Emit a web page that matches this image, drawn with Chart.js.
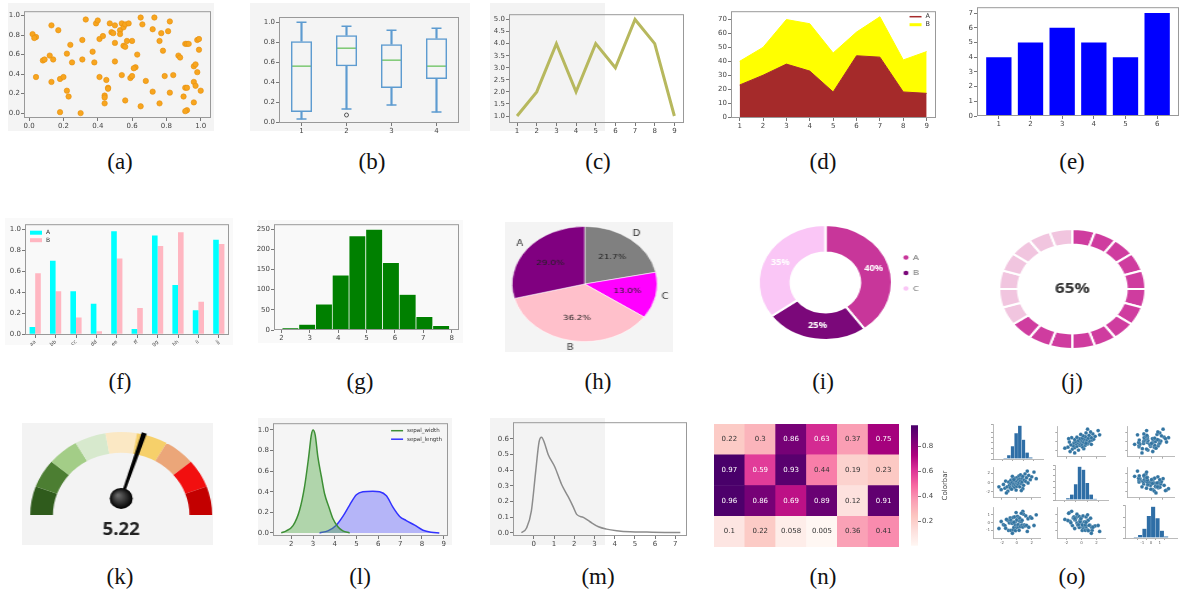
<!DOCTYPE html>
<html>
<head>
<meta charset="utf-8">
<title>Types de graphiques</title>
<script src="https://cdn.jsdelivr.net/npm/chart.js@4.4.1/dist/chart.umd.min.js"></script>
<style>
  html, body { margin: 0; padding: 0; background: #fff; }
  body { position: relative; width: 1181px; height: 597px; overflow: hidden; }
  .fond, .panel { position: absolute; }
  .panel canvas { display: block; }
  .cap { position: absolute; width: 60px; height: 28px; line-height: 28px; text-align: center;
         font-family: 'Liberation Serif', 'Times New Roman', serif; font-size: 23px; color: #111; }
</style>
</head>
<body>
<script>
'use strict';
//(a) nuage de points
const scatterX = [
  0.02, 0.04, 0.03, 0.13, 0.17, 0.08, 0.09, 0.12, 0.14, 0.04,
  0.13, 0.18, 0.20, 0.22, 0.24, 0.25, 0.22, 0.23, 0.18, 0.30,
  0.31, 0.31, 0.33, 0.37, 0.38, 0.39, 0.40, 0.41, 0.43, 0.41,
  0.45, 0.46, 0.46, 0.44, 0.44, 0.44, 0.47, 0.48, 0.49, 0.50,
  0.50, 0.50, 0.53, 0.53, 0.54, 0.55, 0.56, 0.55, 0.56, 0.57,
  0.58, 0.60, 0.54, 0.59, 0.60, 0.62, 0.61, 0.63, 0.56, 0.65,
  0.66, 0.72, 0.73, 0.76, 0.77, 0.78, 0.68, 0.72, 0.65, 0.76,
  0.79, 0.81, 0.82, 0.82, 0.84, 0.87, 0.88, 0.90, 0.91, 0.92,
  0.91, 0.92, 0.93, 0.92, 0.91, 0.96, 0.97, 0.98, 0.99, 0.99,
  0.98, 0.96, 0.97, 1.00, 0.96
];
const scatterY = [
  0.81, 0.78, 0.77, 0.90, 0.85, 0.54, 0.55, 0.59, 0.55, 0.37,
  0.32, 0.35, 0.37, 0.61, 0.70, 0.52, 0.23, 0.17, 0.01, 0.00,
  0.55, 0.75, 0.96, 0.63, 0.52, 0.92, 0.95, 0.76, 0.79, 0.37,
  0.34, 0.26, 0.25, 0.18, 0.16, 0.10, 0.92, 0.83, 0.82, 0.90,
  0.72, 0.53, 0.85, 0.81, 0.92, 0.88, 0.91, 0.69, 0.68, 0.74,
  0.92, 0.74, 0.39, 0.36, 0.38, 0.47, 0.46, 0.60, 0.13, 0.98,
  0.91, 0.86, 0.98, 0.74, 0.82, 0.64, 0.33, 0.22, 0.07, 0.10,
  0.38, 0.84, 0.94, 0.21, 0.39, 0.59, 0.57, 0.17, 0.26, 0.26,
  0.71, 0.71, 0.71, 0.03, 0.02, 0.48, 0.50, 0.75, 0.76, 0.65,
  0.42, 0.32, 0.28, 0.23, 0.11
];
const unitTicks = [0, 0.2, 0.4, 0.6, 0.8, 1.0];

//(b) boîtes à moustaches
const boxCats = ['1', '2', '3', '4'];
const boxMin = [0.03, 0.13, 0.17, 0.10];
const boxQ1 = [0.10, 0.56, 0.34, 0.43];
const boxMed = [0.56, 0.74, 0.62, 0.56];
const boxQ3 = [0.81, 0.87, 0.78, 0.84];
const boxMax = [1.00, 0.96, 0.92, 0.94];
const boxOut = [null, 0.07, null, null];

//(c) courbe
const lineX = [1, 2, 3, 4, 5, 6, 7, 8, 9];
const lineY = [1, 2, 4, 2, 4, 3, 5, 4, 1];
const lineYTicks = [1.0, 1.5, 2.0, 2.5, 3.0, 3.5, 4.0, 4.5, 5.0];

//(d) aires empilées
const areaX = [1, 2, 3, 4, 5, 6, 7, 8, 9];
const areaA = [23, 30, 38, 33, 18, 44, 43, 18, 17];
const areaB = [17, 20, 32, 34, 28, 17, 29, 23, 30];
const areaYTicks = [0, 10, 20, 30, 40, 50, 60, 70];

//(e) barres
const barX = [1, 2, 3, 4, 5, 6];
const barY = [4, 5, 6, 5, 4, 7];
const barYTicks = [0, 1, 2, 3, 4, 5, 6, 7];

//(f) barres groupées
const groupLabels = ['aa', 'bb', 'cc', 'dd', 'ee', 'ff', 'gg', 'hh', 'ii', 'jj'];
const groupA = [0.07, 0.70, 0.41, 0.29, 0.98, 0.05, 0.94, 0.47, 0.23, 0.90];
const groupB = [0.58, 0.41, 0.16, 0.03, 0.72, 0.25, 0.84, 0.97, 0.31, 0.86];

//(g) histogramme
const histCenters = [2.32, 2.91, 3.50, 4.09, 4.68, 5.27, 5.86, 6.45, 7.04, 7.63];
const histCounts = [5, 14, 64, 136, 233, 249, 167, 88, 33, 11];
const histXTicks = [2, 3, 4, 5, 6, 7, 8];
const histYTicks = [0, 50, 100, 150, 200, 250];

//(h) camembert (ordre horaire depuis le haut)
const pieLabels = ['D', 'C', 'B', 'A'];
const pieValues = [21.7, 13.0, 36.2, 29.0];

//(i) anneau
const donutLabels = ['A', 'B', 'C'];
const donutValues = [40, 25, 35];

//(j) anneau segmenté
const ringSegments = [1, 1, 1, 1, 1, 1, 1, 1, 1, 1, 1, 1, 1, 1, 1, 1, 1, 1, 1, 1];
const ringPercent = 65;

//(k) jauge
const gaugeSegments = [1, 1, 1, 1, 1, 1, 1, 1, 1];
const gaugeValue = 5.22;

//(l) densités
const widthX = [1.54, 1.77, 2.08, 2.38, 2.61, 2.80, 2.92, 3.00, 3.10, 3.22, 3.38, 3.53, 3.73, 3.91, 4.14, 4.37, 4.68];
const widthY = [0, 0.02, 0.07, 0.22, 0.45, 0.74, 0.95, 1.00, 0.95, 0.74, 0.55, 0.38, 0.25, 0.14, 0.06, 0.02, 0];
const lengthX = [3.30, 3.68, 4.07, 4.37, 4.68, 4.99, 5.29, 5.75, 6.06, 6.37, 6.67, 6.98, 7.28, 7.67, 8.05, 8.43, 8.80];
const lengthY = [0, 0.02, 0.075, 0.16, 0.27, 0.37, 0.40, 0.405, 0.40, 0.36, 0.25, 0.16, 0.12, 0.075, 0.026, 0.006, 0];
const kdeXTicks = [2, 3, 4, 5, 6, 7, 8, 9];

//(m) densité
const densX = [-0.61, -0.36, -0.12, 0.10, 0.26, 0.38, 0.51, 0.71, 1.04, 1.37, 1.70, 1.95, 2.12, 2.45, 2.78, 3.20, 3.60, 4.10, 4.77, 5.60, 6.90, 7.25];
const densY = [0, 0.03, 0.14, 0.40, 0.58, 0.61, 0.58, 0.50, 0.42, 0.31, 0.23, 0.165, 0.117, 0.098, 0.07, 0.038, 0.023, 0.013, 0.006, 0.004, 0.002, 0.002];
const densXTicks = [0, 1, 2, 3, 4, 5, 6, 7];
const densYTicks = [0, 0.1, 0.2, 0.3, 0.4, 0.5, 0.6];

//(n) carte de chaleur
const heatCols = ['0', '1', '2', '3', '4', '5'];
const heatRows = [
  [0.22, 0.3, 0.86, 0.63, 0.37, 0.75],
  [0.97, 0.59, 0.93, 0.44, 0.19, 0.23],
  [0.96, 0.86, 0.69, 0.89, 0.12, 0.91],
  [0.1, 0.22, 0.058, 0.005, 0.36, 0.41]
];
const colorbarTicks = [0.2, 0.4, 0.6, 0.8];

//(o) matrice de nuages
const pairV1 = [-2.1, -1.8, -1.6, -1.5, -1.3, -1.2, -1.1, -1.0, -0.9, -0.8, -0.8, -0.7, -0.6, -0.5, -0.5, -0.4, -0.3, -0.3, -0.2, -0.2,
  -0.1, -0.1, 0.0, 0.0, 0.1, 0.1, 0.2, 0.2, 0.3, 0.3, 0.4, 0.4, 0.5, 0.5, 0.6, 0.7, 0.7, 0.8, 0.9, 1.0,
  1.1, 1.2, 1.3, 1.5, 1.6, 1.8, 2.0, 2.3, -2.4, 2.6, -0.6, 0.8, -1.4, 1.4, -0.4, 0.6];
const pairV2 = [-1.5, -0.4, -1.2, 0.3, -0.9, -1.8, 0.1, -0.6, -1.1, 0.5, -0.2, -1.4, 0.0, -0.7, 0.8, -0.3, -1.0, 0.4, -0.5, 0.9,
  -0.1, -1.6, 0.2, -0.8, 1.1, -0.3, 0.6, -0.4, 1.4, 0.0, -0.9, 0.7, 0.3, 1.6, -0.2, 0.9, 0.1, 1.3, -0.6, 0.5,
  1.8, 0.2, 1.0, -0.1, 1.5, 0.6, 1.2, 2.2, -0.9, 0.8, 1.3, -1.3, -2.2, 2.4, 0.6, -1.7];
const pairV3 = [0.15, -0.26, -0.38, -0.73, 0.39, 0.28, -1.01, -0.04, 0.61, -1.0, 0.32, -0.01, -0.1, 0.67, -0.93, -0.62, 0.75, 0.11, -0.3, -1.04,
  0.21, 1.31, -0.62, 0.38, -0.31, 0.83, -0.56, -0.26, -0.99, 0.65, 0.54, 0.18, -0.43, -0.51, 0.12, 0.31, -0.31, -0.58, 1.11, -0.3,
  -0.43, 0.88, -0.35, 0.51, -0.6, 0.74, 0.58, -0.37, -0.76, 1.02, -1.38, 1.48, 0.42, -1.14, 0.04, 1.22];
const pairBins1 = [-2.45, -1.75, -1.05, -0.35, 0.35, 1.05, 1.75, 2.45];
const pairBins2 = [-2.45, -1.75, -1.05, -0.35, 0.35, 1.05, 1.75, 2.45];
const pairBins3 = [-1.75, -1.25, -0.75, -0.25, 0.25, 0.75, 1.25, 1.75];
const pairHist1 = [2, 7, 24, 48, 62, 36, 12, 3];
const pairHist2 = [3, 9, 26, 55, 50, 28, 9, 2];
const pairHist3 = [2, 6, 18, 42, 60, 38, 14, 3];
const pairTicks1 = [-2, 0, 2];
const pairTicks2 = [-2, 0, 2];
const pairTicks3 = [-1, 0, 1];

//légendes des sous-figures
const captions = ['(a)', '(b)', '(c)', '(d)', '(e)', '(f)', '(g)', '(h)', '(i)', '(j)', '(k)', '(l)', '(m)', '(n)', '(o)'];

//réglages globaux
Chart.defaults.font.family = "'DejaVu Sans', sans-serif";
Chart.defaults.color = '#444';
Chart.defaults.animation = false;
Chart.defaults.responsive = false;
Chart.defaults.maintainAspectRatio = false;
Chart.defaults.events = [];
Chart.defaults.plugins.legend.display = false;
Chart.defaults.plugins.tooltip.enabled = false;

const f1 = v => Number(v).toFixed(1);

//fonds gris des panneaux
function fond(x, y, w, h, c) {
  const d = document.createElement('div');
  d.className = 'fond';
  Object.assign(d.style, { left: x + 'px', top: y + 'px', width: w + 'px', height: h + 'px', background: c });
  document.body.appendChild(d);
}
fond(8, 3, 206, 128, '#f4f4f4');
fond(250, 3, 220, 128, '#f4f4f4');
fond(490, 3, 115, 128, '#f3f3f3');
fond(5, 218, 228, 127, '#f9f9f9');
fond(258, 220, 205, 123, '#f9f9f9');
fond(505, 222, 168, 130, '#f4f4f4');
fond(22, 423, 191, 122, '#f3f3f3');
fond(258, 418, 194, 127, '#f5f5f5');
fond(490, 418, 115, 127, '#f3f3f3');

//créer un canvas positionné
function creerCanvas(x, y, w, h, sx) {
  const div = document.createElement('div');
  div.className = 'panel';
  div.style.left = x + 'px';
  div.style.top = y + 'px';
  if (sx) { div.style.transform = 'scaleX(' + sx + ')'; div.style.transformOrigin = '0 0'; }
  const cv = document.createElement('canvas');
  cv.width = w; cv.height = h;
  cv.style.width = w + 'px'; cv.style.height = h + 'px';
  div.appendChild(cv);
  document.body.appendChild(div);
  return cv;
}

//canvas pour un graphique à axes (zone de tracé donnée)
const PAD = { top: 5, right: 7, left: 1, bottom: 1 };
function canvasAxes(L, T, R, B, yW, xH) {
  return creerCanvas(L - yW - PAD.left, T - PAD.top, R - L + yW + PAD.left + PAD.right, B - T + PAD.top + xH + PAD.bottom);
}

//axe façon matplotlib
function axe(o) {
  const a = {
    type: o.type || 'linear',
    position: o.pos,
    offset: o.offset || false,
    stacked: o.stacked || false,
    ticks: { font: { size: o.font || 7 }, color: '#444', padding: 1, autoSkip: false, maxRotation: o.rot || 0, minRotation: o.rot || 0 },
    grid: { display: true, drawOnChartArea: false, drawTicks: true, tickLength: 3, tickColor: '#777', offset: false },
    border: { display: false },
    afterFit: s => { if (s.isHorizontal()) s.height = o.size; else s.width = o.size; }
  };
  if (o.min !== undefined) a.min = o.min;
  if (o.max !== undefined) a.max = o.max;
  if (o.ticks) a.afterBuildTicks = s => { s.ticks = o.ticks.map(v => ({ value: v })); };
  if (o.fmt) a.ticks.callback = o.fmt;
  return a;
}

//cadre autour de la zone de tracé
function cadre(color) {
  return {
    id: 'cadre',
    afterDraw(chart) {
      const a = chart.chartArea, c = chart.ctx;
      c.save(); c.strokeStyle = color; c.lineWidth = 1;
      c.strokeRect(a.left + 0.5, a.top + 0.5, a.width - 1, a.height - 1);
      c.restore();
    }
  };
}

//légende dans la zone de tracé
function legende(items, align, taille, pas, haut) {
  return {
    id: 'legende',
    afterDraw(chart) {
      const a = chart.chartArea, c = chart.ctx, ech = 12;
      c.save();
      c.font = taille + "px 'DejaVu Sans'";
      c.textBaseline = 'middle';
      const tw = Math.max(...items.map(it => c.measureText(it.label).width));
      const x0 = align === 'left' ? a.left + 5 : a.right - 6 - ech - 4 - tw;
      items.forEach((it, i) => {
        const y = a.top + haut + i * pas;
        if (it.box) { c.fillStyle = it.color; c.fillRect(x0, y - 2, ech, 4); }
        else { c.strokeStyle = it.color; c.lineWidth = it.lw; c.beginPath(); c.moveTo(x0, y); c.lineTo(x0 + ech, y); c.stroke(); }
        c.fillStyle = '#333';
        c.fillText(it.label, x0 + ech + 4, y);
      });
      c.restore();
    }
  };
}

const pts = (xs, ys) => xs.map((x, i) => ({ x: x, y: ys[i] }));

//(a)
new Chart(canvasAxes(24, 11, 211, 118, 20, 13), {
  type: 'scatter',
  data: { datasets: [{ data: pts(scatterX, scatterY), pointRadius: 2.7, backgroundColor: '#f7a51f', borderColor: '#e58f0c', borderWidth: 0.6 }] },
  options: {
    layout: { padding: PAD },
    scales: { x: axe({ min: -0.03, max: 1.06, ticks: unitTicks, fmt: f1, size: 13 }), y: axe({ min: -0.05, max: 1.045, ticks: unitTicks, fmt: f1, size: 20 }) }
  },
  plugins: [cadre('#999')]
});

//(b)
const bleuBoite = '#5d9bd0';
new Chart(canvasAxes(279, 10, 464, 123, 20, 13), {
  type: 'bar',
  data: {
    labels: boxCats,
    datasets: [
      { data: boxQ1.map((q, i) => [q, boxQ3[i]]), backgroundColor: 'rgba(0,0,0,0)', borderColor: bleuBoite, borderWidth: 1.5, borderSkipped: false, barPercentage: 0.47, categoryPercentage: 1, grouped: false },
      { data: boxMin.map((m, i) => [m, boxQ1[i]]), backgroundColor: bleuBoite, barThickness: 1.5, grouped: false },
      { data: boxQ3.map((q, i) => [q, boxMax[i]]), backgroundColor: bleuBoite, barThickness: 1.5, grouped: false },
      { type: 'line', data: boxMin, showLine: false, pointStyle: 'line', pointRadius: 5, pointBorderColor: bleuBoite, pointBorderWidth: 1.5 },
      { type: 'line', data: boxMax, showLine: false, pointStyle: 'line', pointRadius: 5, pointBorderColor: bleuBoite, pointBorderWidth: 1.5 },
      { type: 'line', data: boxMed, showLine: false, pointStyle: 'line', pointRadius: 10.5, pointBorderColor: '#7cc872', pointBorderWidth: 1.5 },
      { type: 'line', data: boxOut, showLine: false, pointStyle: 'circle', pointRadius: 2, pointBackgroundColor: 'rgba(0,0,0,0)', pointBorderColor: '#555', pointBorderWidth: 1 }
    ]
  },
  options: {
    layout: { padding: PAD },
    scales: { x: axe({ type: 'category', offset: true, size: 13 }), y: axe({ min: -0.01, max: 1.053, ticks: unitTicks, fmt: f1, size: 20 }) }
  },
  plugins: [cadre('#999')]
});

//(c)
new Chart(canvasAxes(509, 14, 684, 123, 20, 13), {
  type: 'line',
  data: { datasets: [{ data: pts(lineX, lineY), borderColor: '#b7b85e', borderWidth: 3, pointRadius: 0, tension: 0 }] },
  options: {
    layout: { padding: PAD },
    scales: { x: axe({ min: 0.59, max: 9.49, ticks: lineX, size: 13 }), y: axe({ min: 0.71, max: 5.22, ticks: lineYTicks, fmt: f1, size: 20 }) }
  },
  plugins: [cadre('#999')]
});

//(d)
new Chart(canvasAxes(731, 11, 936, 118, 20, 13), {
  type: 'line',
  data: {
    datasets: [
      { label: 'A', data: pts(areaX, areaA), borderColor: '#a52a2a', backgroundColor: '#a52a2a', fill: 'origin', pointRadius: 0, borderWidth: 1 },
      { label: 'B', data: pts(areaX, areaB), borderColor: '#ffff00', backgroundColor: '#ffff00', fill: '-1', pointRadius: 0, borderWidth: 1 }
    ]
  },
  options: {
    layout: { padding: PAD },
    scales: { x: axe({ min: 0.63, max: 9.4, ticks: areaX, size: 13 }), y: axe({ min: -0.7, max: 76, ticks: areaYTicks, stacked: true, size: 20 }) }
  },
  plugins: [cadre('#999'), legende([{ label: 'A', color: '#a52a2a', lw: 1.5 }, { label: 'B', color: '#ffff00', lw: 3 }], 'right', 6.5, 8, 5.5)]
});

//(e)
new Chart(canvasAxes(977, 7, 1179, 116, 20, 13), {
  type: 'bar',
  data: { datasets: [{ data: pts(barX, barY), backgroundColor: '#0000ff', barPercentage: 0.8, categoryPercentage: 1 }] },
  options: {
    layout: { padding: PAD },
    scales: { x: axe({ min: 0.31, max: 6.69, ticks: barX, size: 13 }), y: axe({ min: 0, max: 7.4, ticks: barYTicks, size: 20 }) }
  },
  plugins: [cadre('#999')]
});

//(f)
new Chart(canvasAxes(25, 224, 229, 335, 20, 13), {
  type: 'bar',
  data: {
    labels: groupLabels,
    datasets: [
      { label: 'A', data: groupA, backgroundColor: '#00ffff', categoryPercentage: 0.55, barPercentage: 1 },
      { label: 'B', data: groupB, backgroundColor: '#ffb6c1', categoryPercentage: 0.55, barPercentage: 1 }
    ]
  },
  options: {
    layout: { padding: PAD },
    scales: { x: axe({ type: 'category', offset: true, size: 13, font: 5, rot: 40 }), y: axe({ min: -0.006, max: 1.047, ticks: unitTicks, fmt: f1, size: 20 }) }
  },
  plugins: [cadre('#999'), legende([{ label: 'A', color: '#00ffff', box: true }, { label: 'B', color: '#ffb6c1', box: true }], 'left', 6, 7.5, 8.5)]
});

//(g)
new Chart(canvasAxes(274, 224, 459, 330, 20, 13), {
  type: 'bar',
  data: { datasets: [{ data: pts(histCenters, histCounts), backgroundColor: '#008000', borderColor: 'rgba(255,255,255,0.85)', borderWidth: 0.7, barPercentage: 1, categoryPercentage: 1 }] },
  options: {
    layout: { padding: PAD },
    scales: { x: axe({ min: 1.74, max: 8.26, ticks: histXTicks, size: 13 }), y: axe({ min: 0, max: 262, ticks: histYTicks, size: 20 }) }
  },
  plugins: [cadre('#999')]
});

//(h)
const pieColors = { A: '#800080', B: '#ffc0cb', C: '#ff00ff', D: '#808080' };
const textePie = {
  id: 'textePie',
  afterDatasetsDraw(chart) {
    const c = chart.ctx;
    c.save();
    c.textAlign = 'center'; c.textBaseline = 'middle';
    chart.getDatasetMeta(0).data.forEach((arc, i) => {
      const p = arc.getProps(['x', 'y', 'startAngle', 'endAngle', 'outerRadius'], true);
      const mid = (p.startAngle + p.endAngle) / 2;
      c.font = "7px 'DejaVu Sans'"; c.fillStyle = '#222';
      c.fillText(pieValues[i].toFixed(1) + '%', p.x + Math.cos(mid) * p.outerRadius * 0.6, p.y + Math.sin(mid) * p.outerRadius * 0.6);
      c.font = "8px 'DejaVu Sans'"; c.fillStyle = '#333';
      c.fillText(pieLabels[i], p.x + Math.cos(mid) * p.outerRadius * 1.13, p.y + Math.sin(mid) * p.outerRadius * 1.13);
    });
    c.restore();
  }
};
new Chart(creerCanvas(499, 216, 136, 136, 1.26), {
  type: 'pie',
  data: { labels: pieLabels, datasets: [{ data: pieValues, backgroundColor: pieLabels.map(l => pieColors[l]), borderColor: 'rgba(255,255,255,0.7)', borderWidth: 0.8 }] },
  options: { layout: { padding: 10 } },
  plugins: [textePie]
});

//(i)
const donutColors = ['#c8369a', '#7b087a', '#fac6f6'];
const texteDonut = {
  id: 'texteDonut',
  afterDatasetsDraw(chart) {
    const c = chart.ctx;
    let cx = 0, cy = 0, R = 0;
    c.save();
    c.textAlign = 'center'; c.textBaseline = 'middle';
    chart.getDatasetMeta(0).data.forEach((arc, i) => {
      const p = arc.getProps(['x', 'y', 'startAngle', 'endAngle', 'innerRadius', 'outerRadius'], true);
      const mid = (p.startAngle + p.endAngle) / 2, r = (p.innerRadius + p.outerRadius) / 2;
      c.font = "bold 8px 'Open Sans'"; c.fillStyle = '#ffffff';
      c.fillText(donutValues[i] + '%', p.x + Math.cos(mid) * r, p.y + Math.sin(mid) * r);
      cx = p.x; cy = p.y; R = p.outerRadius;
    });
    //légende à droite
    c.textAlign = 'left'; c.font = "8px 'Open Sans'";
    donutLabels.forEach((lab, i) => {
      const y = cy - 25 + i * 15.5;
      c.fillStyle = donutColors[i];
      c.beginPath(); c.arc(cx + R + 12, y, 2.2, 0, 2 * Math.PI); c.fill();
      c.fillStyle = '#666';
      c.fillText(lab, cx + R + 18, y);
    });
    c.restore();
  }
};
new Chart(creerCanvas(754, 220, 160, 125, 1.16), {
  type: 'doughnut',
  data: { labels: donutLabels, datasets: [{ data: donutValues, backgroundColor: donutColors, borderColor: '#ffffff', borderWidth: 2 }] },
  options: { cutout: '52%', layout: { padding: { left: 3, top: 4, bottom: 4, right: 40 } } },
  plugins: [texteDonut]
});

//(j)
const texteAnneau = {
  id: 'texteAnneau',
  afterDatasetsDraw(chart) {
    const p = chart.getDatasetMeta(0).data[0].getProps(['x', 'y'], true);
    const c = chart.ctx;
    c.save();
    c.font = "bold 14px 'Open Sans'"; c.fillStyle = '#333';
    c.textAlign = 'center'; c.textBaseline = 'middle';
    c.fillText(ringPercent + '%', p.x, p.y);
    c.restore();
  }
};
const ringFull = ringPercent / 100 * ringSegments.length;
new Chart(creerCanvas(993, 224, 130, 130, 1.22), {
  type: 'doughnut',
  data: { datasets: [{ data: ringSegments, backgroundColor: ringSegments.map((v, i) => i < ringFull ? '#cf3c9f' : '#f1c5df'), borderColor: '#ffffff', borderWidth: 2 }] },
  options: { cutout: '74%', layout: { padding: 4 } },
  plugins: [texteAnneau]
});

//(k)
const gaugeColors = ['#2f5b1c', '#4c7e32', '#a3cd87', '#d7e9cd', '#fbe8c4', '#f6d06a', '#eba679', '#f20f0f', '#c30000'];
const aiguille = {
  id: 'aiguille',
  afterDatasetsDraw(chart) {
    const p = chart.getDatasetMeta(0).data[0].getProps(['x', 'y', 'outerRadius'], true);
    const c = chart.ctx;
    const total = gaugeSegments.reduce((s, v) => s + v, 0);
    const ang = Math.PI + Math.PI * gaugeValue / total;
    const tx = p.x + Math.cos(ang) * p.outerRadius * 1.02, ty = p.y + Math.sin(ang) * p.outerRadius * 1.02;
    const px = p.x, py = p.y - p.outerRadius * 0.2;
    const len = Math.hypot(tx - px, ty - py), nx = -(ty - py) / len, ny = (tx - px) / len;
    c.save();
    c.fillStyle = '#000';
    c.beginPath();
    c.moveTo(px + nx * 1.2, py + ny * 1.2); c.lineTo(tx + nx * 2.3, ty + ny * 2.3);
    c.lineTo(tx - nx * 2.3, ty - ny * 2.3); c.lineTo(px - nx * 1.2, py - ny * 1.2);
    c.closePath(); c.fill();
    const g = c.createRadialGradient(px - 3, py - 3, 1, px, py, 10.5);
    g.addColorStop(0, '#666'); g.addColorStop(1, '#000');
    c.fillStyle = g;
    c.beginPath(); c.arc(px, py, 10.5, 0, 2 * Math.PI); c.fill();
    c.font = "bold 17px 'Open Sans'"; c.fillStyle = '#222';
    c.textAlign = 'center'; c.textBaseline = 'middle';
    c.fillText(gaugeValue.toFixed(2), p.x, p.y + 15);
    c.restore();
  }
};
new Chart(creerCanvas(27.5, 430, 170, 117, 1.096), {
  type: 'doughnut',
  data: { datasets: [{ data: gaugeSegments, backgroundColor: gaugeColors, borderWidth: 0 }] },
  options: { rotation: -90, circumference: 180, cutout: '75%', layout: { padding: { top: 2, left: 2, right: 2, bottom: 32 } } },
  plugins: [aiguille]
});

//(l)
new Chart(canvasAxes(273, 423, 448, 536, 20, 13), {
  type: 'line',
  data: {
    datasets: [
      { label: 'sepal_width', data: pts(widthX, widthY), borderColor: '#3d8f35', backgroundColor: 'rgba(80,170,70,0.42)', fill: 'origin', pointRadius: 0, borderWidth: 1.5, cubicInterpolationMode: 'monotone' },
      { label: 'sepal_length', data: pts(lengthX, lengthY), borderColor: '#3232ff', backgroundColor: 'rgba(70,70,255,0.36)', fill: 'origin', pointRadius: 0, borderWidth: 1.5, cubicInterpolationMode: 'monotone' }
    ]
  },
  options: {
    layout: { padding: PAD },
    scales: { x: axe({ min: 1.16, max: 9.2, ticks: kdeXTicks, size: 13 }), y: axe({ min: -0.03, max: 1.065, ticks: unitTicks, fmt: f1, size: 20 }) }
  },
  plugins: [cadre('#999'), legende([{ label: 'sepal_width', color: '#3d8f35', lw: 1.5 }, { label: 'sepal_length', color: '#3232ff', lw: 1.5 }], 'right', 5.5, 8.5, 7.5)]
});

//(m)
new Chart(canvasAxes(513, 422, 687, 536, 20, 13), {
  type: 'line',
  data: { datasets: [{ data: pts(densX, densY), borderColor: '#8c8c8c', borderWidth: 1.5, pointRadius: 0, cubicInterpolationMode: 'monotone' }] },
  options: {
    layout: { padding: PAD },
    scales: { x: axe({ min: -1.03, max: 7.58, ticks: densXTicks, size: 13 }), y: axe({ min: -0.021, max: 0.706, ticks: densYTicks, fmt: f1, size: 20 }) }
  },
  plugins: [cadre('#999')]
});

//(n) palette RdPu
const rdpuStops = ['#fff7f3', '#fde0dd', '#fcc5c0', '#fa9fb5', '#f768a1', '#dd3497', '#ae017e', '#7a0177', '#49006a'];
const hex = h => [1, 3, 5].map(k => parseInt(h.substr(k, 2), 16));
function rdpu(t) {
  t = Math.max(0, Math.min(1, t));
  const p = t * (rdpuStops.length - 1), i = Math.min(rdpuStops.length - 2, Math.floor(p)), f = p - i;
  const a = hex(rdpuStops[i]), b = hex(rdpuStops[i + 1]);
  return 'rgb(' + a.map((v, k) => Math.round(v + (b[k] - v) * f)).join(',') + ')';
}
const heatFlat = heatRows.flat();
const heatMin = Math.min(...heatFlat), heatMax = Math.max(...heatFlat);
const texteHeat = {
  id: 'texteHeat',
  afterDatasetsDraw(chart) {
    const c = chart.ctx;
    c.save();
    c.font = "7px 'DejaVu Sans'"; c.textAlign = 'center'; c.textBaseline = 'middle';
    chart.data.datasets.forEach((ds, di) => {
      const row = heatRows[heatRows.length - 1 - di];
      chart.getDatasetMeta(di).data.forEach((bar, i) => {
        const p = bar.getProps(['x', 'y', 'base'], true);
        c.fillStyle = (row[i] - heatMin) / (heatMax - heatMin) > 0.5 ? '#ffffff' : '#333333';
        c.fillText(String(row[i]), p.x, (p.y + p.base) / 2);
      });
    });
    c.restore();
  }
};
new Chart(creerCanvas(714, 424, 185, 123), {
  type: 'bar',
  data: {
    labels: heatCols,
    datasets: heatRows.slice().reverse().map(row => ({
      data: row.map(() => 1),
      backgroundColor: row.map(v => rdpu((v - heatMin) / (heatMax - heatMin))),
      borderWidth: 0, barPercentage: 1, categoryPercentage: 1
    }))
  },
  options: { scales: { x: { display: false, stacked: true }, y: { display: false, stacked: true, min: 0, max: heatRows.length } } },
  plugins: [texteHeat]
});

//barre de couleurs
const titreVertical = {
  id: 'titreVertical',
  afterDraw(chart) {
    const a = chart.chartArea, c = chart.ctx;
    c.save();
    c.translate(a.right + 27, (a.top + a.bottom) / 2);
    c.rotate(-Math.PI / 2);
    c.font = "7px 'DejaVu Sans'"; c.fillStyle = '#444';
    c.textAlign = 'center'; c.textBaseline = 'middle';
    c.fillText('Colorbar', 0, 0);
    c.restore();
  }
};
new Chart(creerCanvas(909, 420, 40, 131), {
  type: 'bar',
  data: {
    labels: ['c'],
    datasets: [{
      data: [[heatMin, heatMax]],
      backgroundColor: ctx => {
        const a = ctx.chart.chartArea;
        if (!a) return '#ccc';
        const g = ctx.chart.ctx.createLinearGradient(0, a.bottom, 0, a.top);
        rdpuStops.forEach((col, i) => g.addColorStop(i / (rdpuStops.length - 1), col));
        return g;
      },
      borderWidth: 0, barPercentage: 1, categoryPercentage: 1
    }]
  },
  options: {
    layout: { padding: { top: 4, bottom: 4, left: 2, right: 0 } },
    scales: { x: { display: false }, y: axe({ min: heatMin, max: heatMax, ticks: colorbarTicks, fmt: f1, size: 31, pos: 'right' }) }
  },
  plugins: [titreVertical]
});

//(o) matrice 3x3
const pairVars = [pairV1, pairV2, pairV3];
const pairBins = [pairBins1, pairBins2, pairBins3];
const pairHists = [pairHist1, pairHist2, pairHist3];
const pairTicks = [pairTicks1, pairTicks2, pairTicks3];
const pairLim = [[-3.2, 3.2], [-3.2, 3.2], [-2, 2]];
const colsX = [[993, 1043], [1055, 1108], [1125, 1177]];
const rowsY = [[424, 459], [465, 500], [505, 538]];
function axePaire(min, max, ticks, show, size) {
  const a = {
    type: 'linear', min: min, max: max,
    ticks: { display: show, font: { size: 4 }, color: '#666', padding: 1, maxRotation: 0, autoSkip: false },
    grid: { display: true, drawOnChartArea: false, tickLength: 2, tickColor: '#aaa' },
    border: { display: true, color: '#aaa', width: 0.8 },
    afterFit: s => { if (s.isHorizontal()) s.height = size; else s.width = size; }
  };
  if (ticks) a.afterBuildTicks = s => { s.ticks = ticks.map(v => ({ value: v })); };
  return a;
}
for (let r = 0; r < 3; r++) {
  for (let c = 0; c < 3; c++) {
    const yW = c === 0 ? 12 : 2, xH = r === 2 ? 8 : 2;
    const L = colsX[c][0], R = colsX[c][1], T = rowsY[r][0], B = rowsY[r][1];
    const cv = creerCanvas(L - yW, T - 2, R - L + yW + 2, B - T + 2 + xH);
    const xA = axePaire(pairLim[c][0], pairLim[c][1], pairTicks[c], r === 2, xH);
    let cfg;
    if (r === c) {
      cfg = {
        type: 'bar',
        data: { datasets: [{ data: pts(pairBins[c], pairHists[c]), backgroundColor: '#2f6ea6', borderColor: 'rgba(255,255,255,0.5)', borderWidth: 0.4, barPercentage: 1, categoryPercentage: 1 }] },
        options: { scales: { x: xA, y: axePaire(0, Math.max(...pairHists[c]) * 1.05, null, false, yW) } }
      };
      cfg.options.scales.y.ticks.display = false;
    } else {
      cfg = {
        type: 'scatter',
        data: { datasets: [{ data: pts(pairVars[c], pairVars[r]), pointRadius: 1.9, backgroundColor: '#3274a1', borderColor: 'rgba(255,255,255,0.6)', borderWidth: 0.3 }] },
        options: { scales: { x: xA, y: axePaire(pairLim[r][0], pairLim[r][1], pairTicks[r], c === 0, yW) } }
      };
    }
    cfg.options.layout = { padding: { top: 2, right: 2, left: 0, bottom: 0 } };
    new Chart(cv, cfg);
  }
}

//légendes (a) ... (o)
const capX = [[120, 372, 598, 823, 1072], [120, 360, 598, 823, 1072], [120, 360, 598, 823, 1072]];
const capY = [162, 382, 577];
captions.forEach((t, i) => {
  const r = Math.floor(i / 5), k = i % 5;
  const d = document.createElement('div');
  d.className = 'cap';
  d.textContent = t;
  d.style.left = (capX[r][k] - 30) + 'px';
  d.style.top = (capY[r] - 14) + 'px';
  document.body.appendChild(d);
});
</script>
</body>
</html>
